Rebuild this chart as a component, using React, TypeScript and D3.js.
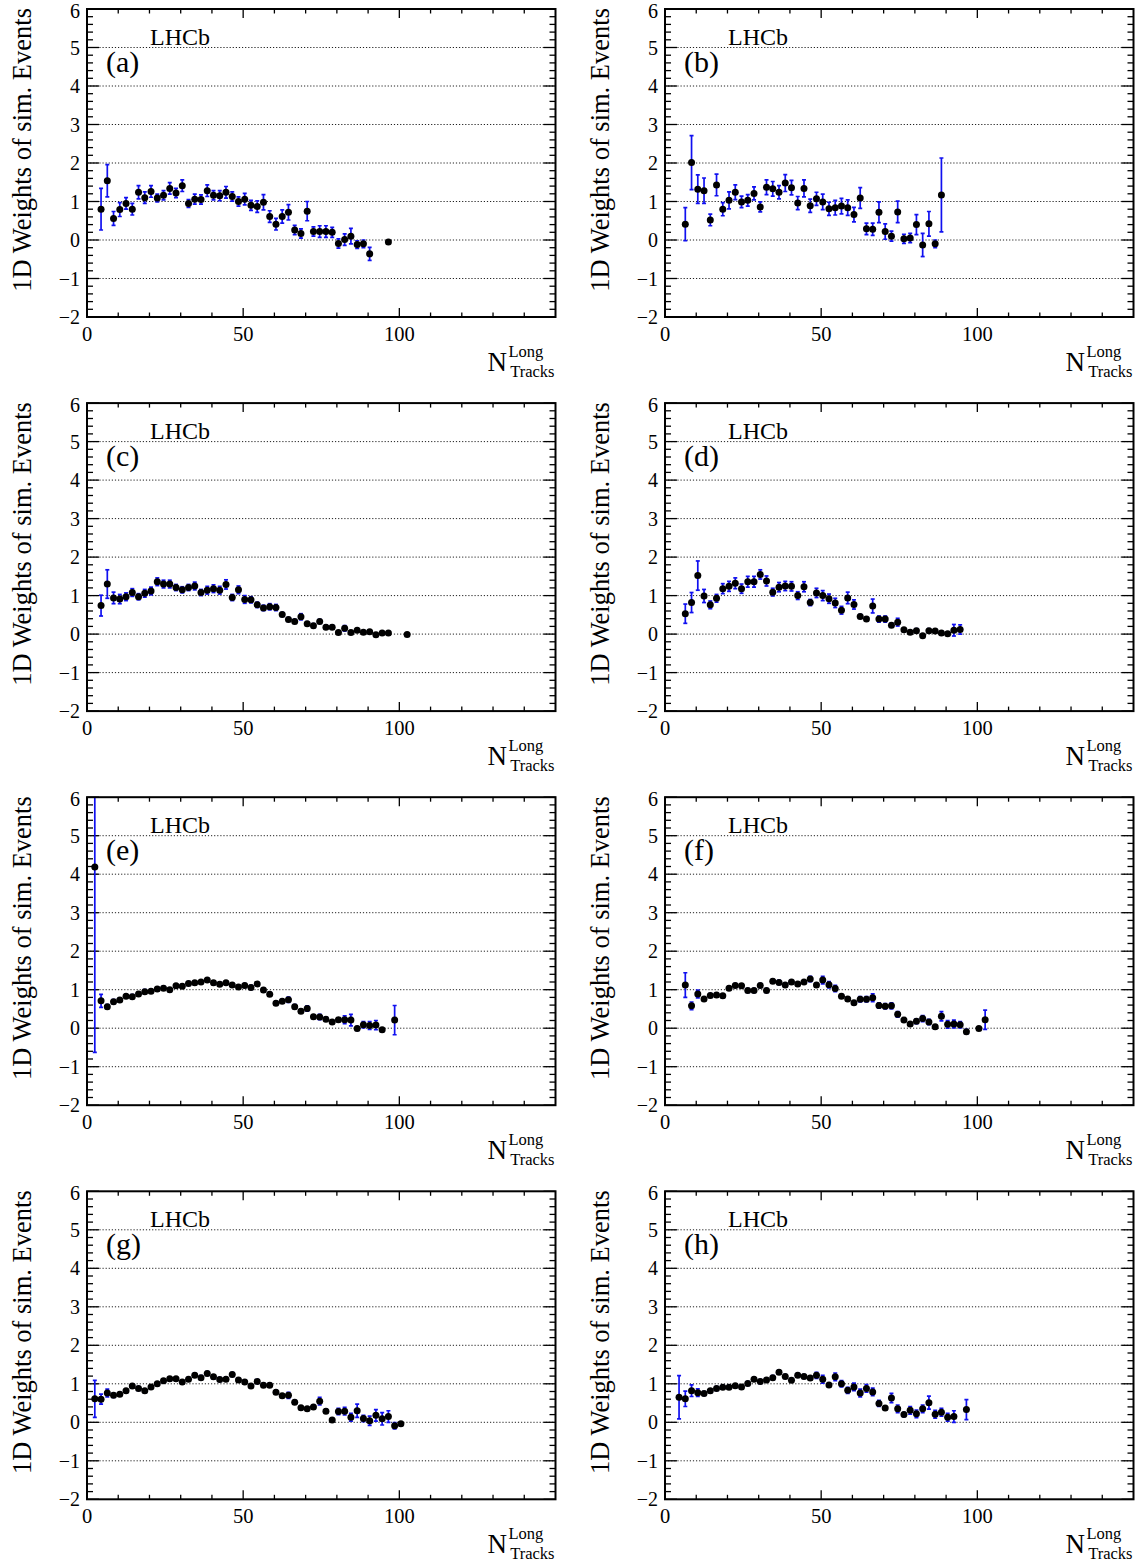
import React from "react";
import * as d3 from "d3";

// ---------- data ----------
const panelLabels = ["(a)", "(b)", "(c)", "(d)", "(e)", "(f)", "(g)", "(h)"];
const xTicksMajor = [0, 50, 100];
const xTicksMinor = [10, 20, 30, 40, 60, 70, 80, 90, 110, 120, 130, 140];
const yTicksMajor = [-2, -1, 0, 1, 2, 3, 4, 5, 6];
const yGrid = [-1, 0, 1, 2, 3, 4, 5];
const binWidth = 2;

// first bin centre of each panel
const binStarts = [4.5, 6.5, 4.5, 6.5, 2.5, 6.5, 2.5, 4.5];

const valuesA = [0.80,1.54,0.56,0.79,0.95,0.80,1.24,1.10,1.26,1.09,1.16,1.34,1.22,1.41,0.95,1.06,1.05,1.28,1.16,1.15,1.24,1.13,1.00,1.06,0.90,0.87,0.98,0.61,0.41,0.61,0.72,0.26,0.17,0.75,0.22,0.22,0.22,0.20,-0.09,0.01,0.10,-0.12,-0.10,-0.36,null,null,-0.05];
const errorsA = [0.54,0.42,0.18,0.18,0.15,0.15,0.17,0.15,0.15,0.10,0.12,0.15,0.12,0.15,0.10,0.13,0.12,0.15,0.12,0.13,0.15,0.12,0.12,0.15,0.13,0.15,0.20,0.15,0.15,0.17,0.20,0.12,0.12,0.25,0.12,0.15,0.15,0.13,0.12,0.15,0.20,0.10,0.10,0.17,null,null,0.04];

const valuesB = [0.41,2.01,1.32,1.28,0.52,1.43,0.80,1.03,1.24,0.99,1.03,1.21,0.86,1.37,1.33,1.24,1.48,1.36,0.96,1.34,0.89,1.07,0.99,0.81,0.84,0.88,0.84,0.66,1.09,0.29,0.28,0.72,0.22,0.10,0.73,0.03,0.05,0.40,-0.13,0.42,-0.10,1.17];
const errorsB = [0.43,0.70,0.37,0.33,0.15,0.28,0.17,0.22,0.19,0.15,0.15,0.17,0.13,0.19,0.19,0.17,0.22,0.19,0.17,0.22,0.17,0.17,0.20,0.17,0.19,0.20,0.20,0.19,0.27,0.15,0.16,0.27,0.20,0.13,0.28,0.12,0.12,0.26,0.30,0.32,0.10,0.96];

const valuesC = [0.74,1.30,0.94,0.91,0.97,1.08,0.97,1.06,1.12,1.36,1.30,1.30,1.21,1.15,1.21,1.25,1.08,1.14,1.18,1.14,1.29,0.95,1.15,0.90,0.89,0.76,0.68,0.71,0.69,0.51,0.38,0.33,0.45,0.27,0.22,0.33,0.18,0.18,0.04,0.15,0.04,0.10,0.05,0.06,-0.02,0.03,0.03,null,null,-0.01];
const errorsC = [0.27,0.37,0.15,0.12,0.10,0.10,0.08,0.10,0.10,0.10,0.10,0.10,0.08,0.08,0.08,0.10,0.08,0.10,0.10,0.10,0.12,0.08,0.10,0.10,0.08,0.07,0.07,0.08,0.08,0.05,0.05,0.05,0.08,0.05,0.05,0.05,0.05,0.05,0.04,0.07,0.04,0.04,0.04,0.04,0.04,0.04,0.04,null,null,0.03];

const valuesD = [0.53,0.82,1.52,0.99,0.76,0.93,1.18,1.24,1.32,1.18,1.36,1.36,1.55,1.38,1.09,1.22,1.25,1.24,1.00,1.23,0.82,1.07,1.00,0.92,0.81,0.62,0.94,0.77,0.46,0.39,0.73,0.39,0.39,0.23,0.31,0.11,0.05,0.09,-0.04,0.09,0.08,0.03,0.01,0.10,0.12];
const errorsD = [0.25,0.26,0.38,0.17,0.10,0.10,0.13,0.13,0.14,0.12,0.14,0.14,0.12,0.13,0.10,0.12,0.12,0.12,0.10,0.13,0.08,0.12,0.13,0.12,0.12,0.10,0.15,0.12,0.05,0.05,0.18,0.08,0.08,0.05,0.10,0.05,0.04,0.05,0.04,0.05,0.05,0.04,0.04,0.15,0.12];

const valuesE = [4.19,0.71,0.56,0.69,0.73,0.83,0.82,0.89,0.95,0.96,1.02,1.04,1.00,1.10,1.09,1.16,1.18,1.20,1.25,1.18,1.14,1.18,1.12,1.07,1.11,1.06,1.15,0.99,0.88,0.65,0.70,0.74,0.56,0.44,0.51,0.30,0.29,0.23,0.16,0.22,0.22,0.21,-0.01,0.09,0.07,0.08,-0.04,null,0.21];
const errorsE = [4.82,0.17,0.05,0.05,0.05,0.05,0.05,0.05,0.05,0.05,0.05,0.05,0.05,0.05,0.05,0.05,0.05,0.05,0.05,0.05,0.05,0.05,0.05,0.05,0.05,0.05,0.05,0.05,0.05,0.05,0.05,0.07,0.05,0.05,0.07,0.05,0.07,0.05,0.05,0.05,0.10,0.15,0.05,0.08,0.10,0.12,0.05,null,0.38];

const valuesF = [1.12,0.58,0.89,0.76,0.85,0.86,0.84,1.04,1.11,1.10,0.98,0.98,1.11,0.98,1.22,1.19,1.12,1.20,1.15,1.20,1.28,1.12,1.25,1.13,1.03,0.83,0.76,0.66,0.75,0.75,0.79,0.59,0.57,0.58,0.36,0.21,0.11,0.18,0.25,0.16,0.04,0.31,0.10,0.11,0.09,-0.09,null,-0.01,0.22];
const errorsF = [0.32,0.10,0.10,0.05,0.05,0.05,0.05,0.05,0.05,0.05,0.05,0.05,0.05,0.05,0.05,0.05,0.05,0.05,0.05,0.05,0.07,0.05,0.10,0.08,0.08,0.05,0.05,0.05,0.07,0.07,0.10,0.07,0.07,0.08,0.07,0.05,0.05,0.06,0.08,0.07,0.05,0.12,0.10,0.10,0.08,0.06,null,0.04,0.25];

const valuesG = [0.61,0.60,0.76,0.70,0.73,0.82,0.94,0.88,0.82,0.92,1.00,1.08,1.13,1.13,1.05,1.12,1.22,1.16,1.27,1.18,1.11,1.12,1.24,1.10,1.05,0.94,1.06,0.96,0.96,0.78,0.69,0.70,0.52,0.38,0.35,0.40,0.55,0.29,0.06,0.28,0.29,0.13,0.30,0.10,0.04,0.18,0.09,0.15,-0.09,-0.04];
const errorsG = [0.48,0.13,0.10,0.05,0.05,0.05,0.05,0.05,0.05,0.05,0.05,0.05,0.05,0.05,0.05,0.05,0.05,0.05,0.05,0.05,0.05,0.05,0.05,0.05,0.05,0.05,0.05,0.05,0.05,0.05,0.05,0.08,0.05,0.05,0.05,0.05,0.10,0.05,0.05,0.08,0.10,0.10,0.17,0.08,0.12,0.15,0.16,0.15,0.08,0.05];

const valuesH = [0.65,0.61,0.82,0.77,0.75,0.82,0.88,0.91,0.91,0.95,0.92,1.01,1.12,1.06,1.10,1.16,1.30,1.19,1.09,1.22,1.19,1.15,1.22,1.12,0.97,1.18,1.00,0.83,0.92,0.76,0.88,0.79,0.49,0.37,0.63,0.35,0.20,0.31,0.22,0.35,0.51,0.21,0.26,0.13,0.15,null,0.33];
const errorsH = [0.56,0.20,0.15,0.10,0.05,0.05,0.05,0.05,0.05,0.05,0.05,0.05,0.05,0.05,0.05,0.05,0.05,0.05,0.05,0.05,0.05,0.05,0.08,0.10,0.05,0.10,0.08,0.08,0.10,0.10,0.10,0.10,0.08,0.05,0.12,0.10,0.05,0.10,0.10,0.10,0.17,0.10,0.10,0.10,0.15,null,0.26];

const allValues = [valuesA, valuesB, valuesC, valuesD, valuesE, valuesF, valuesG, valuesH];
const allErrors = [errorsA, errorsB, errorsC, errorsD, errorsE, errorsF, errorsG, errorsH];

// ---------- layout ----------
const W = 1139;
const H = 1564;
const colLeft = [87, 665];
const rowTop0 = 9;
const rowPitch = 394.1;
const plotW = 468.5;
const plotH = 308;
const FONT = "'Liberation Serif', 'Times New Roman', 'DejaVu Serif', serif";
const ERR_COLOR = "#1010f0";

type PanelProps = { idx: number };

function Panel({ idx }: PanelProps) {
  const col = idx % 2;
  const row = Math.floor(idx / 2);
  const left = colLeft[col];
  const top = rowTop0 + row * rowPitch;
  const x = d3.scaleLinear().domain([0, 150]).range([left, left + plotW]);
  const y = d3.scaleLinear().domain([-2, 6]).range([top + plotH, top]);
  const values = allValues[idx];
  const errors = allErrors[idx];
  const x0 = binStarts[idx];
  const right = left + plotW;
  const bottom = top + plotH;

  const yMinor: number[] = d3.range(-2, 6.0001, 0.2).map((v) => Math.round(v * 10) / 10);

  const points = values
    .map((v, i) => ({ v, e: errors[i], xc: x0 + i * binWidth }))
    .filter((p) => p.v !== null) as { v: number; e: number; xc: number }[];

  const clipId = `clip${idx}`;

  return (
    <g>
      <defs>
        <clipPath id={clipId}>
          <rect x={left} y={top} width={plotW} height={plotH} />
        </clipPath>
      </defs>
      {/* grid */}
      {yGrid.map((g) => (
        <line
          key={`g${g}`}
          x1={left}
          x2={right}
          y1={y(g)}
          y2={y(g)}
          stroke="#222"
          strokeWidth={1}
          strokeDasharray="1.2 1.9"
        />
      ))}
      {/* y ticks left/right */}
      {yMinor.map((t) => {
        const major = Math.abs(t - Math.round(t)) < 1e-6;
        const len = major ? 12 : 6;
        return (
          <g key={`yt${t}`}>
            <line x1={left} x2={left + len} y1={y(t)} y2={y(t)} stroke="#000" strokeWidth={1.3} />
            <line x1={right} x2={right - len} y1={y(t)} y2={y(t)} stroke="#000" strokeWidth={1.3} />
          </g>
        );
      })}
      {/* x ticks bottom/top */}
      {xTicksMajor.map((t) => (
        <g key={`xM${t}`}>
          <line x1={x(t)} x2={x(t)} y1={bottom} y2={bottom - 9} stroke="#000" strokeWidth={1.3} />
          <line x1={x(t)} x2={x(t)} y1={top} y2={top + 9} stroke="#000" strokeWidth={1.3} />
        </g>
      ))}
      {xTicksMinor.map((t) => (
        <g key={`xm${t}`}>
          <line x1={x(t)} x2={x(t)} y1={bottom} y2={bottom - 4.5} stroke="#000" strokeWidth={1.3} />
          <line x1={x(t)} x2={x(t)} y1={top} y2={top + 4.5} stroke="#000" strokeWidth={1.3} />
        </g>
      ))}
      {/* data */}
      <g clipPath={`url(#${clipId})`}>
        {points.map((p, i) => {
          const cx = x(p.xc);
          const yLo = y(p.v - p.e);
          const yHi = y(p.v + p.e);
          return (
            <g key={`e${i}`} stroke={ERR_COLOR} strokeWidth={1.7}>
              <line x1={cx} x2={cx} y1={yLo} y2={yHi} />
              <line x1={cx - 2} x2={cx + 2} y1={yLo} y2={yLo} />
              <line x1={cx - 2} x2={cx + 2} y1={yHi} y2={yHi} />
            </g>
          );
        })}
        {points.map((p, i) => (
          <circle key={`p${i}`} cx={x(p.xc)} cy={y(p.v)} r={3.5} fill="#000" />
        ))}
      </g>
      {/* frame */}
      <rect x={left} y={top} width={plotW} height={plotH} fill="none" stroke="#000" strokeWidth={2} />
      {/* y tick labels */}
      {yTicksMajor.map((t) => (
        <text
          key={`yl${t}`}
          x={left - 7}
          y={y(t) + (t === 6 ? 2 : 0)}
          dominantBaseline="central"
          textAnchor="end"
          fontFamily={FONT}
          fontSize={20}
          fill="#000"
        >
          {t < 0 ? `\u2212${Math.abs(t)}` : `${t}`}
        </text>
      ))}
      {/* x tick labels */}
      {xTicksMajor.map((t) => (
        <text
          key={`xl${t}`}
          x={x(t)}
          y={bottom + 24}
          textAnchor="middle"
          fontFamily={FONT}
          fontSize={20.5}
          fill="#000"
        >
          {t}
        </text>
      ))}
      {/* x title */}
      <text x={right - 68} y={bottom + 54} fontFamily={FONT} fontSize={27} fill="#000">
        N
      </text>
      <text x={right - 47} y={bottom + 40} fontFamily={FONT} fontSize={16.5} fill="#000">
        Long
      </text>
      <text x={right - 1} y={bottom + 60} textAnchor="end" fontFamily={FONT} fontSize={16.5} fill="#000">
        Tracks
      </text>
      {/* y title */}
      <text
        transform={`translate(${left - 56},${top - 1}) rotate(-90)`}
        textAnchor="end"
        fontFamily={FONT}
        fontSize={26.5}
        fill="#000"
      >
        1D Weights of sim. Events
      </text>
      {/* LHCb and panel label */}
      <text x={left + 63} y={top + 36} fontFamily={FONT} fontSize={24} fill="#000">
        LHCb
      </text>
      <text x={left + 19} y={top + 63} fontFamily={FONT} fontSize={30} fill="#000">
        {panelLabels[idx]}
      </text>
    </g>
  );
}

export default function App() {
  return (
    <svg
      width={W}
      height={H}
      style={{ position: "absolute", left: 0, top: 0, background: "#fff" }}
    >
      <rect x={0} y={0} width={W} height={H} fill="#fff" />
      {panelLabels.map((_, i) => (
        <Panel key={i} idx={i} />
      ))}
    </svg>
  );
}
